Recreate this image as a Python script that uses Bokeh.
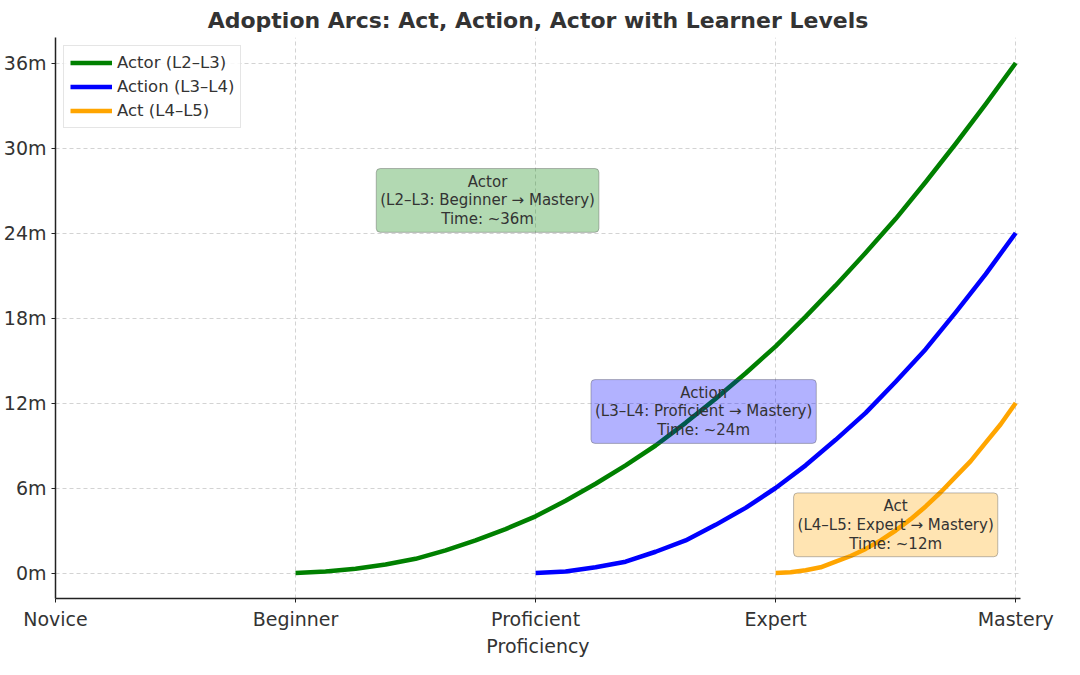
from bokeh.plotting import figure
from bokeh.models import Label, Range1d, FixedTicker, Legend, LegendItem
from bokeh.embed import file_html
from bokeh.resources import INLINE

# ---- data ----
levels = ["Novice", "Beginner", "Proficient", "Expert", "Mastery"]
level_pos = [0, 1, 2, 3, 4]
month_ticks = [0, 6, 12, 18, 24, 30, 36]

actor_x = [1.0, 1.125, 1.25, 1.375, 1.5, 1.625, 1.75, 1.875, 2.0, 2.125, 2.25, 2.375, 2.5,
           2.625, 2.75, 2.875, 3.0, 3.125, 3.25, 3.375, 3.5, 3.625, 3.75, 3.875, 4.0]
actor_y = [0, 0.1, 0.3, 0.6, 1, 1.6, 2.3, 3.1, 4, 5.1, 6.3, 7.6, 9,
           10.6, 12.3, 14.1, 16, 18.1, 20.3, 22.6, 25, 27.6, 30.3, 33.1, 36]

action_x = [2.0, 2.125, 2.25, 2.375, 2.5, 2.625, 2.75, 2.875, 3.0,
            3.125, 3.25, 3.375, 3.5, 3.625, 3.75, 3.875, 4.0]
action_y = [0, 0.1, 0.4, 0.8, 1.5, 2.3, 3.4, 4.6, 6,
            7.6, 9.4, 11.3, 13.5, 15.8, 18.4, 21.1, 24]

act_x = [3.0, 3.0625, 3.125, 3.1875, 3.25, 3.3125, 3.375, 3.4375, 3.5,
         3.5625, 3.625, 3.6875, 3.75, 3.8125, 3.875, 3.9375, 4.0]
act_y = [0, 0.05, 0.2, 0.4, 0.8, 1.2, 1.7, 2.3, 3,
         3.8, 4.7, 5.7, 6.8, 7.9, 9.2, 10.5, 12]

series_names = ["Actor (L2–L3)", "Action (L3–L4)", "Act (L4–L5)"]
series_colors = ["green", "blue", "orange"]

notes = [
    "Actor\n(L2–L3: Beginner → Mastery)\nTime: ~36m",
    "Action\n(L3–L4: Proficient → Mastery)\nTime: ~24m",
    "Act\n(L4–L5: Expert → Mastery)\nTime: ~12m",
]
note_x = [1.8, 2.7, 3.5]
note_y = [26.3, 11.4, 3.4]
note_fill = ["green", "blue", "orange"]

FONT = "DejaVu Sans"

p = figure(width=1064, height=659, output_backend="svg", toolbar_location=None,
           title="Adoption Arcs: Act, Action, Actor with Learner Levels",
           x_range=Range1d(0, 4.02), y_range=Range1d(-1.8, 37.8),
           min_border_right=44, min_border_top=2, min_border_left=4, min_border_bottom=2)

p.title.text_font = FONT
p.title.text_font_size = "22px"
p.title.text_font_style = "bold"
p.title.text_color = "#333333"
p.title.align = "center"

renderers = []
for xs, ys, c in zip([actor_x, action_x, act_x], [actor_y, action_y, act_y], series_colors):
    r = p.line(xs, ys, line_color=c, line_width=4.5, line_join="round")
    renderers.append(r)

legend = Legend(items=[LegendItem(label=n, renderers=[r]) for n, r in zip(series_names, renderers)],
                location="top_left")
legend.label_text_font = FONT
legend.label_text_font_size = "16.5px"
legend.label_text_color = "#333333"
legend.glyph_width = 42
legend.glyph_height = 21
legend.spacing = 3
legend.padding = 6
legend.margin = 8
legend.border_line_color = "#cccccc"
legend.background_fill_alpha = 0.85
p.add_layout(legend)

for t, x, y, c in zip(notes, note_x, note_y, note_fill):
    lab = Label(x=x, y=y, text=t, text_align="center", text_baseline="middle",
                text_font=FONT, text_font_size="15px", text_color="#333333",
                text_line_height=1.05,
                background_fill_color=c, background_fill_alpha=0.3,
                border_line_color="#555555", border_line_alpha=0.4,
                padding=4, border_radius=4)
    p.add_layout(lab)

# axes
p.xaxis.ticker = FixedTicker(ticks=level_pos)
p.xaxis.major_label_overrides = {pos: name for pos, name in zip(level_pos, levels)}
p.yaxis.ticker = FixedTicker(ticks=month_ticks)
p.yaxis.major_label_overrides = {m: f"{m}m" for m in month_ticks}
p.xaxis.axis_label = "Proficiency"

for ax in (p.xaxis, p.yaxis):
    ax.major_label_text_font = FONT
    ax.major_label_text_font_size = "19px"
    ax.major_label_text_color = "#333333"
    ax.axis_label_text_font = FONT
    ax.axis_label_text_font_size = "19px"
    ax.axis_label_text_font_style = "normal"
    ax.axis_label_text_color = "#333333"
    ax.axis_line_color = "#222222"
    ax.axis_line_width = 1.5
    ax.major_tick_line_color = "#222222"
    ax.major_tick_out = 4
    ax.major_tick_in = 0
    ax.minor_tick_line_color = None
p.xaxis.axis_label_standoff = 2
p.xaxis.major_label_standoff = 5

p.grid.grid_line_color = "#c8c8c8"
p.grid.grid_line_dash = "4 3"
p.grid.grid_line_width = 0.8
p.outline_line_color = None

open("out.html", "w").write(file_html(p, INLINE))
